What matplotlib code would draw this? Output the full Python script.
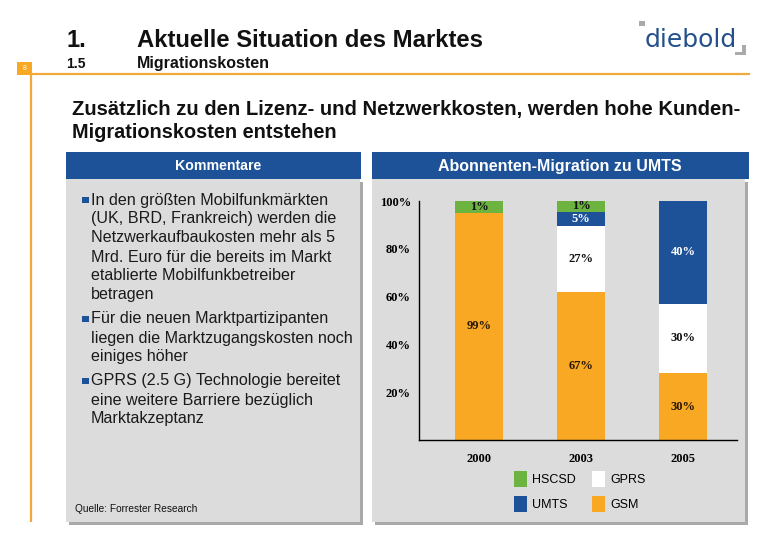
import matplotlib
matplotlib.use("Agg")
import matplotlib.pyplot as plt
from matplotlib.patches import Rectangle, Patch
from matplotlib import font_manager as fm

# ---------------- data ----------------
years = ["2000", "2003", "2005"]
gsm = [95, 62, 28]          # segment heights as drawn (%)
gprs = [0, 27.5, 29]
umts = [0, 6, 43]
hscsd = [5, 4.5, 0]
gsm_lbl = ["99%", "67%", "30%"]
gprs_lbl = ["", "27%", "30%"]
umts_lbl = ["", "5%", "40%"]
hscsd_lbl = ["1%", "1%", ""]
yticks = [20, 40, 60, 80, 100]
ytick_labels = ["20%", "40%", "60%", "80%", "100%"]

comments = [
    ["In den größten Mobilfunkmärkten", "(UK, BRD, Frankreich) werden die",
     "Netzwerkaufbaukosten mehr als 5", "Mrd. Euro für die bereits im Markt",
     "etablierte Mobilfunkbetreiber", "betragen"],
    ["Für die neuen Marktpartizipanten", "liegen die Marktzugangskosten noch",
     "einiges höher"],
    ["GPRS (2.5 G) Technologie bereitet", "eine weitere Barriere bezüglich",
     "Marktakzeptanz"],
]

# ---------------- style ----------------
C_ORANGE = "#F8A823"
C_GREEN = "#6CB33F"
C_BLUE = "#1D5299"
C_WHITE = "#FFFFFF"
C_PANEL = "#DCDCDC"
C_SHADOW = "#A9A9A9"
C_LINE = "#F0AA3A"
SANS = "Liberation Sans"
SERIF = "Liberation Serif"
try:
    fm.findfont(fm.FontProperties(family="Liberation Sans Narrow"),
                fallback_to_default=False)
    NARROW = "Liberation Sans Narrow"
except Exception:
    NARROW = SANS

fig = plt.figure(figsize=(7.8, 5.4), dpi=100)
bg = fig.add_axes([0, 0, 1, 1])
bg.set_xlim(0, 780)
bg.set_ylim(540, 0)
bg.axis("off")
renderer = fig.canvas.get_renderer()


def put(x, y, s, width=None, size=10, **kw):
    t = bg.text(x, y, s, fontsize=size, **kw)
    if width:
        w = t.get_window_extent(renderer).width
        t.set_fontsize(size * width / w)
    return t


# header area
bg.add_patch(Rectangle((17, 62), 15, 13, color=C_ORANGE, lw=0))
put(24.5, 69, "8", size=5, color="white", ha="center", va="center", family=SANS)
bg.plot([31, 750], [74, 74], color=C_LINE, lw=1.6, solid_capstyle="butt")
bg.plot([31, 31], [74, 522], color=C_LINE, lw=1.6, solid_capstyle="butt")

put(66, 47, "1.", size=17, family=NARROW, weight="bold", color="#111111",
    va="baseline")
put(137, 47, "Aktuelle Situation des Marktes", width=347, size=17,
    family=NARROW, weight="bold", color="#111111", va="baseline")
put(66, 68, "1.5", size=10, family=NARROW, weight="bold", color="#111111",
    va="baseline")
put(137, 68, "Migrationskosten", width=133, size=10, family=NARROW,
    weight="bold", color="#111111", va="baseline")

# logo
put(645, 47, "diebold", width=92, size=20, family="DejaVu Sans",
    color="#23508C", va="baseline")
bg.add_patch(Rectangle((639, 21), 6, 5, color="#AAAAAA", lw=0))
bg.add_patch(Rectangle((742, 45), 4, 10, color="#AAAAAA", lw=0))
bg.add_patch(Rectangle((735, 52), 11, 3, color="#AAAAAA", lw=0))

# subtitle
put(72, 115, "Zusätzlich zu den Lizenz- und Netzwerkkosten, werden hohe Kunden-",
    width=673, size=14, family=NARROW, weight="bold", color="#111111",
    va="baseline")
put(72, 138, "Migrationskosten entstehen", width=265, size=14, family=NARROW,
    weight="bold", color="#111111", va="baseline")

# panels
for (x0, x1, hx1) in [(66, 360, 361), (372, 745, 749)]:
    bg.add_patch(Rectangle((x0 + 3, 182), x1 - x0, 522 - 179, color=C_SHADOW, lw=0))
    bg.add_patch(Rectangle((x0, 179), x1 - x0, 522 - 179, color=C_PANEL, lw=0))
    bg.add_patch(Rectangle((x0, 152), hx1 - x0, 27, color=C_BLUE, lw=0))

put(218, 166, "Kommentare", width=86, size=10, family=SANS, weight="bold",
    color="white", ha="center", va="center")
put(560, 166, "Abonnenten-Migration zu UMTS", width=243, size=10, family=SANS,
    weight="bold", color="white", ha="center", va="center")

# comments
probe = bg.text(0, 0, "liegen die Marktzugangskosten noch", fontsize=10, family=SANS)
fs_c = 10 * 263 / probe.get_window_extent(renderer).width
probe.remove()
y = 200
for block in comments:
    bg.add_patch(Rectangle((82, y - 3.5), 6.5, 6.5, color=C_BLUE, lw=0))
    for line in block:
        bg.text(91, y, line, fontsize=fs_c, family=SANS, color="#1a1a1a",
                va="center")
        y += 19
    y += 5

put(75, 509, "Quelle: Forrester Research", width=122, size=7, family=SANS,
    color="#111111", va="center")

# ---------------- chart ----------------
ax = fig.add_axes([419 / 780, 100 / 540, 318 / 780, 239 / 540])
ax.patch.set_alpha(0)
xs = list(range(len(years)))
W = 0.47
stack = [(gsm, C_ORANGE, "GSM", gsm_lbl, "#2a1800"),
         (gprs, C_WHITE, "GPRS", gprs_lbl, "#111111"),
         (umts, C_BLUE, "UMTS", umts_lbl, "white"),
         (hscsd, C_GREEN, "HSCSD", hscsd_lbl, "#111111")]
bottom = [0.0] * len(years)
for vals, col, name, lbls, tcol in stack:
    ax.bar(xs, vals, W, bottom=bottom, color=col, lw=0, label=name)
    for i, (v, lb) in enumerate(zip(vals, lbls)):
        if lb:
            ax.text(xs[i], bottom[i] + v / 2, lb, ha="center", va="center",
                    fontsize=9, family=SERIF, weight="bold", color=tcol)
    bottom = [b + v for b, v in zip(bottom, vals)]

ax.set_xlim(-0.59, 2.53)
ax.set_ylim(0, 100)
for s in ["top", "right"]:
    ax.spines[s].set_visible(False)
for s in ["left", "bottom"]:
    ax.spines[s].set_color("black")
    ax.spines[s].set_linewidth(1)
ax.set_yticks(yticks)
ax.set_yticklabels(ytick_labels, family=SERIF, weight="bold", fontsize=9)
ax.set_xticks(xs)
ax.set_xticklabels(years, family=SERIF, weight="bold", fontsize=9)
ax.tick_params(axis="y", length=0, pad=5.8)
ax.tick_params(axis="x", length=0, pad=9.2)

handles = [Patch(facecolor=C_GREEN, edgecolor="none", label="HSCSD"),
           Patch(facecolor=C_BLUE, edgecolor="none", label="UMTS"),
           Patch(facecolor=C_WHITE, edgecolor="none", label="GPRS"),
           Patch(facecolor=C_ORANGE, edgecolor="none", label="GSM")]
fig.legend(handles=handles, ncol=2, loc="upper left",
           bbox_to_anchor=(514 / 780, 1 - 471 / 540), frameon=False,
           borderpad=0, borderaxespad=0, handlelength=1.0, handleheight=1.55,
           handletextpad=0.45, columnspacing=1.3, labelspacing=0.75,
           prop={"family": SANS, "size": 9})

fig.savefig("out.png", dpi=100)
